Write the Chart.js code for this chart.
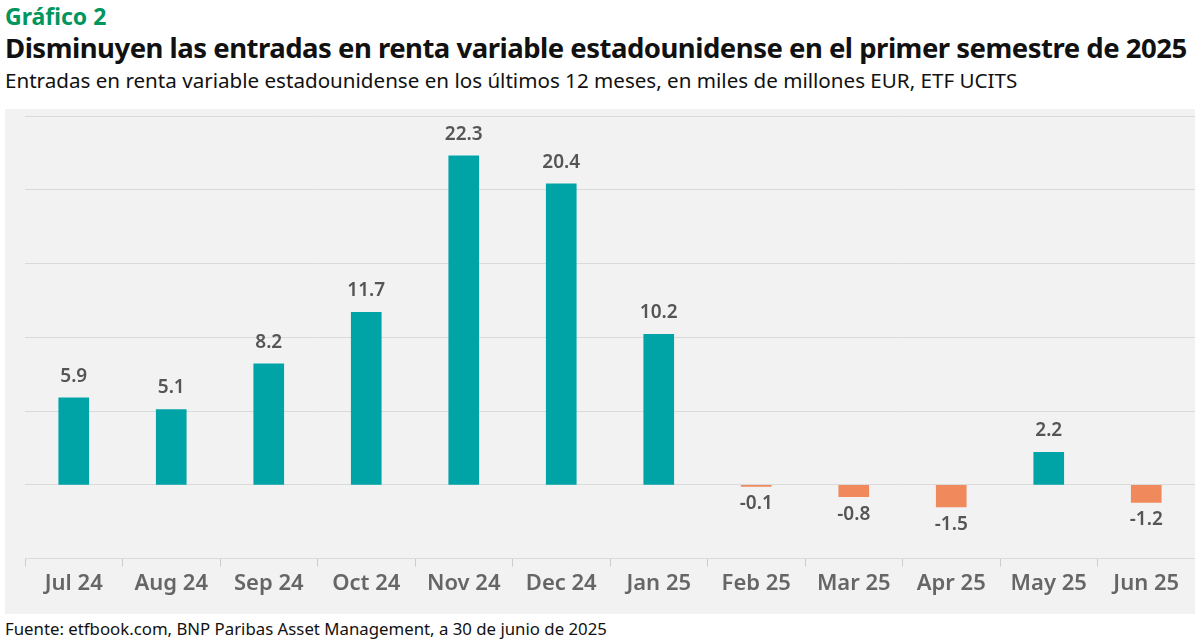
<!DOCTYPE html>
<html><head><meta charset="utf-8">
<script src="https://cdn.jsdelivr.net/npm/chart.js@4"></script>
<style>
body{margin:0;width:1195px;height:641px;background:#fff;font-family:"Noto Sans",sans-serif;overflow:hidden;position:relative}
#g{position:absolute;left:5px;top:0px;font-size:23px;font-weight:bold;color:#00965E}
#t{position:absolute;left:5px;top:29px;font-size:27.5px;font-weight:bold;color:#111;letter-spacing:-0.5px;white-space:nowrap}
#s{position:absolute;left:5px;top:66px;font-size:20.6px;color:#111;white-space:nowrap}
#box{position:absolute;left:5px;top:109px;width:1190px;height:505px;background:#F2F2F2}
#f{position:absolute;left:5px;top:617px;font-size:16.8px;color:#111;white-space:nowrap}
</style></head><body>
<div id="g">Gráfico 2</div>
<div id="t">Disminuyen las entradas en renta variable estadounidense en el primer semestre de 2025</div>
<div id="s">Entradas en renta variable estadounidense en los últimos 12 meses, en miles de millones EUR, ETF UCITS</div>
<div id="box"><canvas id="c" width="1190" height="505"></canvas></div>
<div id="f">Fuente: etfbook.com, BNP Paribas Asset Management, a 30 de junio de 2025</div>
<script>
const categories=["Jul 24","Aug 24","Sep 24","Oct 24","Nov 24","Dec 24","Jan 25","Feb 25","Mar 25","Apr 25","May 25","Jun 25"];
const values=[5.9,5.1,8.2,11.7,22.3,20.4,10.2,-0.1,-0.8,-1.5,2.2,-1.2];
const labelsPlugin={id:'lbl',afterDatasetsDraw(ch){const ctx=ch.ctx;const m=ch.getDatasetMeta(0);ctx.save();ctx.font='600 19px "Noto Sans"';ctx.fillStyle='#555';ctx.textAlign='center';
m.data.forEach((b,i)=>{const v=values[i];if(v>=0){ctx.textBaseline='bottom';ctx.fillText(v.toFixed(1),b.x,b.y-12);}else{ctx.textBaseline='top';ctx.fillText(v.toFixed(1),b.x,b.y+8);}});ctx.restore();}};
new Chart(document.getElementById('c'),{type:'bar',
data:{labels:categories,datasets:[{data:values,backgroundColor:values.map(v=>v>=0?'#00A3A6':'#F08A5D'),barThickness:30}]},
options:{responsive:false,animation:false,layout:{padding:{left:20,right:0,top:7,bottom:13}},
plugins:{legend:{display:false},tooltip:{enabled:false}},
scales:{y:{min:-5,max:25,ticks:{stepSize:5,display:false},grid:{color:'#DADADA',drawTicks:false},border:{display:false}},
x:{grid:{display:true,drawOnChartArea:false,color:'#CCCCCC',tickLength:8},border:{display:false},ticks:{color:'#666',font:{size:22,weight:'600',family:'"Noto Sans"'},padding:4}}}},
plugins:[labelsPlugin]});
</script></body></html>
